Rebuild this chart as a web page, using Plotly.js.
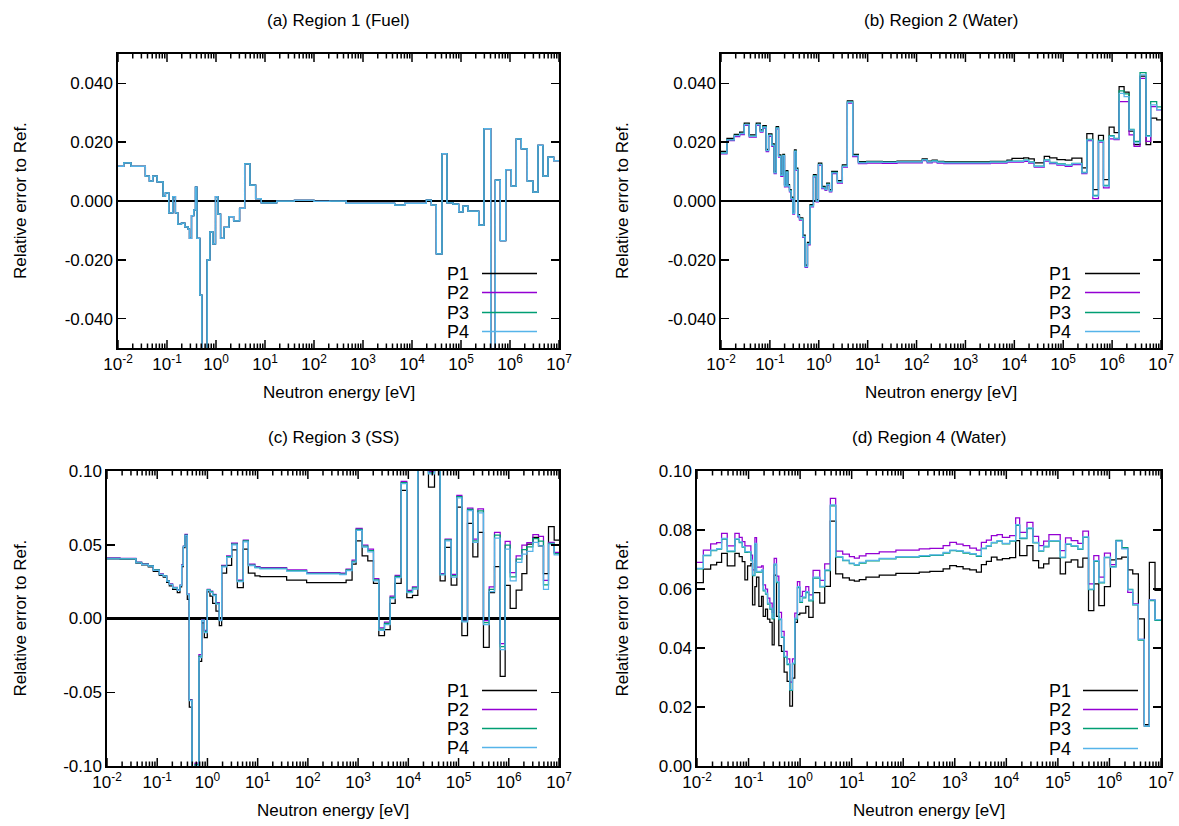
<!DOCTYPE html>
<html><head><meta charset="utf-8">
<script src="https://cdn.plot.ly/plotly-3.0.1.min.js"></script>
<style>html,body{margin:0;padding:0;background:#fff}#chart{width:1179px;height:826px}</style>
</head><body><div id="chart"></div>
<script>
// ---------------- DATA ----------------
const seriesNames = ['P1', 'P2', 'P3', 'P4'];
const seriesColors = ['#000000', '#9400d3', '#009e73', '#56b4e9'];
const panelTitles = ['(a) Region 1 (Fuel)', '(b) Region 2 (Water)', '(c) Region 3 (SS)', '(d) Region 4 (Water)'];
const xTitle = 'Neutron energy [eV]';
const yTitle = 'Relative error to Ref.';
const xTickVals = [1e-2, 1e-1, 1e0, 1e1, 1e2, 1e3, 1e4, 1e5, 1e6, 1e7];
const xTickText = ['10<sup>-2</sup>', '10<sup>-1</sup>', '10<sup>0</sup>', '10<sup>1</sup>', '10<sup>2</sup>', '10<sup>3</sup>', '10<sup>4</sup>', '10<sup>5</sup>', '10<sup>6</sup>', '10<sup>7</sup>'];
const yTickValsAB = [-0.04, -0.02, 0, 0.02, 0.04];
const yTickTextAB = ['-0.040', '-0.020', '0.000', '0.020', '0.040'];
const yTickValsC = [-0.1, -0.05, 0, 0.05, 0.1];
const yTickTextC = ['-0.10', '-0.05', '0.00', '0.05', '0.10'];
const yTickValsD = [0, 0.02, 0.04, 0.06, 0.08, 0.1];
const yTickTextD = ['0.00', '0.02', '0.04', '0.06', '0.08', '0.10'];

// group boundaries, log10(E/eV)
const aEdgesExp = [-2, -1.884, -1.734, -1.441, -1.359, -1.291, -1.202, -1.080, -1.032, -0.964, -0.882, -0.828, -0.780, -0.705, -0.637, -0.568, -0.541, -0.500, -0.453, -0.419, -0.391, -0.330, -0.289, -0.180, -0.125, -0.064, -0.010, 0.038, 0.093, 0.161, 0.263, 0.359, 0.481, 0.584, 0.693, 0.808, 0.924, 1.238, 1.6, 2.0, 2.32, 2.66, 3.646, 3.85, 4.293, 4.395, 4.497, 4.612, 4.714, 4.837, 4.952, 5.041, 5.143, 5.361, 5.469, 5.605, 5.701, 5.803, 5.912, 6.027, 6.129, 6.231, 6.354, 6.469, 6.571, 6.673, 6.776, 6.891, 7];
// Region 1: all four orders coincide
const aVals = [0.0118, 0.0130, 0.0118, 0.0085, 0.0068, 0.0085, 0.0065, 0.0017, 0.0028, -0.0040, 0.0015, -0.0040, -0.0079, -0.0075, -0.0088, -0.0096, -0.0127, -0.0050, -0.0030, 0.0047, -0.0127, -0.0320, -0.0600, -0.0200, -0.0105, -0.0146, 0.0015, -0.0045, -0.0127, -0.0090, -0.0053, -0.0068, -0.0025, 0.0126, 0.0054, 0.0008, -0.0006, 0.0000, 0.0002, -0.0001, 0.0000, -0.0008, -0.0014, -0.0008, 0.0003, -0.0014, -0.0180, 0.0161, -0.0006, -0.0011, -0.0037, -0.0017, -0.0034, -0.0082, 0.0246, -0.0600, 0.0071, -0.0135, 0.0107, 0.0051, 0.0211, 0.0177, 0.0068, 0.0030, 0.0189, 0.0085, 0.0149, 0.0137];

const bEdgesExp = [-2, -1.878, -1.728, -1.619, -1.524, -1.422, -1.279, -1.197, -1.143, -1.075, -1.027, -0.959, -0.912, -0.871, -0.823, -0.776, -0.735, -0.701, -0.667, -0.633, -0.599, -0.565, -0.531, -0.497, -0.463, -0.429, -0.395, -0.327, -0.279, -0.231, -0.177, -0.109, -0.054, -0.007, 0.061, 0.129, 0.163, 0.218, 0.265, 0.381, 0.483, 0.585, 0.694, 0.810, 0.980, 1.3, 1.6, 2.0, 2.116, 2.218, 2.32, 2.422, 2.558, 3.51, 3.85, 3.952, 4.19, 4.293, 4.408, 4.612, 4.721, 4.871, 5.041, 5.177, 5.381, 5.483, 5.605, 5.721, 5.823, 5.939, 6.041, 6.143, 6.245, 6.347, 6.449, 6.571, 6.694, 6.789, 6.912, 7];
const bP1 = [0.0169, 0.0213, 0.0227, 0.0234, 0.0265, 0.0225, 0.0265, 0.0242, 0.0256, 0.0176,
  0.0228, 0.0194, 0.0101, 0.0253, 0.0157, 0.0092, 0.0159, 0.0056, 0.0103, 0.0056,
  0.0039, 0.0013, -0.0037, 0.0174, 0.0112, -0.0046, -0.0057, -0.0116, -0.0218, -0.0141,
  -0.0012, 0.0090, 0.0005, 0.0129, 0.0050, 0.0044, 0.0061, 0.0039, 0.0101, 0.0069,
  0.0123, 0.0341, 0.0159, 0.0134, 0.0135, 0.0134, 0.0136, 0.0136, 0.0143, 0.0136,
  0.0139, 0.0135, 0.0133, 0.0135, 0.0139, 0.0145, 0.0147, 0.0143, 0.0130, 0.0152,
  0.0147, 0.0141, 0.0139, 0.0146, 0.0113, 0.0229, 0.0039, 0.0223, 0.0073, 0.0251,
  0.0233, 0.0389, 0.0370, 0.0238, 0.0192, 0.0425, 0.0192, 0.0282, 0.0276];
const bP2 = [0.0160, 0.0205, 0.0219, 0.0226, 0.0257, 0.0217, 0.0257, 0.0234, 0.0248, 0.0168,
  0.0220, 0.0186, 0.0093, 0.0245, 0.0149, 0.0084, 0.0151, 0.0048, 0.0095, 0.0048,
  0.0031, 0.0005, -0.0045, 0.0166, 0.0104, -0.0054, -0.0065, -0.0124, -0.0226, -0.0149,
  -0.0020, 0.0082, -0.0003, 0.0121, 0.0042, 0.0036, 0.0053, 0.0031, 0.0093, 0.0061,
  0.0115, 0.0333, 0.0151, 0.0127, 0.0129, 0.0128, 0.0130, 0.0130, 0.0137, 0.0130,
  0.0133, 0.0129, 0.0127, 0.0129, 0.0132, 0.0132, 0.0135, 0.0129, 0.0115, 0.0136,
  0.0127, 0.0122, 0.0118, 0.0124, 0.0093, 0.0205, 0.0008, 0.0200, 0.0045, 0.0211,
  0.0209, 0.0338, 0.0338, 0.0225, 0.0186, 0.0417, 0.0203, 0.0321, 0.0310];
const bP3 = [0.0164, 0.0209, 0.0223, 0.0230, 0.0261, 0.0221, 0.0261, 0.0238, 0.0252, 0.0172,
  0.0224, 0.0190, 0.0097, 0.0249, 0.0153, 0.0088, 0.0155, 0.0052, 0.0099, 0.0052,
  0.0035, 0.0009, -0.0041, 0.0170, 0.0108, -0.0050, -0.0061, -0.0120, -0.0222, -0.0145,
  -0.0016, 0.0086, 0.0001, 0.0125, 0.0046, 0.0040, 0.0057, 0.0035, 0.0097, 0.0065,
  0.0119, 0.0337, 0.0155, 0.0131, 0.0133, 0.0132, 0.0134, 0.0134, 0.0141, 0.0134,
  0.0137, 0.0133, 0.0131, 0.0133, 0.0136, 0.0136, 0.0139, 0.0133, 0.0119, 0.0140,
  0.0131, 0.0126, 0.0122, 0.0128, 0.0097, 0.0210, 0.0019, 0.0206, 0.0053, 0.0222,
  0.0213, 0.0375, 0.0364, 0.0244, 0.0203, 0.0437, 0.0222, 0.0338, 0.0320];
const bP4 = [0.0163, 0.0208, 0.0222, 0.0229, 0.0260, 0.0220, 0.0260, 0.0237, 0.0251, 0.0171,
  0.0223, 0.0189, 0.0096, 0.0248, 0.0152, 0.0087, 0.0154, 0.0051, 0.0098, 0.0051,
  0.0034, 0.0008, -0.0042, 0.0169, 0.0107, -0.0051, -0.0062, -0.0121, -0.0223, -0.0146,
  -0.0017, 0.0085, 0.0000, 0.0124, 0.0045, 0.0039, 0.0056, 0.0034, 0.0096, 0.0064,
  0.0118, 0.0336, 0.0154, 0.0130, 0.0132, 0.0131, 0.0133, 0.0133, 0.0140, 0.0133,
  0.0136, 0.0132, 0.0130, 0.0132, 0.0135, 0.0135, 0.0138, 0.0132, 0.0118, 0.0139,
  0.0130, 0.0125, 0.0121, 0.0127, 0.0096, 0.0208, 0.0017, 0.0203, 0.0051, 0.0220,
  0.0211, 0.0366, 0.0355, 0.0242, 0.0198, 0.0429, 0.0220, 0.0327, 0.0311];

const cEdgesExp = [-2, -1.741, -1.423, -1.310, -1.177, -1.078, -0.958, -0.879, -0.812, -0.759, -0.693, -0.600, -0.547, -0.514, -0.480, -0.447, -0.401, -0.361, -0.308, -0.248, -0.195, -0.169, -0.115, -0.062, -0.003, 0.050, 0.104, 0.170, 0.236, 0.283, 0.382, 0.482, 0.595, 0.714, 0.814, 0.946, 1.046, 1.577, 1.975, 2.638, 2.761, 2.880, 2.960, 3.080, 3.193, 3.306, 3.412, 3.525, 3.638, 3.738, 3.857, 3.970, 4.083, 4.189, 4.401, 4.521, 4.633, 4.733, 4.853, 4.966, 5.066, 5.178, 5.285, 5.384, 5.496, 5.610, 5.716, 5.829, 5.928, 6.028, 6.147, 6.261, 6.360, 6.480, 6.592, 6.691, 6.791, 6.904, 7];
const cP1 = [0.0405, 0.0403, 0.0375, 0.0363, 0.0350, 0.0320, 0.0293, 0.0280, 0.0245, 0.0222,
  0.0198, 0.0175, 0.0215, 0.0352, 0.0480, 0.0560, 0.0130, -0.0600, -0.1500, -0.1100,
  -0.1200, -0.0290, -0.0030, -0.0130, 0.0180, 0.0152, 0.0102, 0.0050, -0.0048, 0.0307,
  0.0360, 0.0466, 0.0209, 0.0470, 0.0307, 0.0289, 0.0284, 0.0261, 0.0243, 0.0243,
  0.0261, 0.0368, 0.0527, 0.0425, 0.0391, 0.0239, -0.0116, -0.0075, 0.0102, 0.0239,
  0.0868, 0.0141, 0.0157, 0.1500, 0.0890, 0.1500, 0.0255, 0.0482, 0.0227, 0.0755,
  -0.0116, 0.0645, 0.0418, 0.0584, -0.0195, 0.0175, 0.0352, -0.0393, 0.0225, 0.0068,
  0.0193, 0.0305, 0.0505, 0.0550, 0.0493, 0.0305, 0.0623, 0.0532];
const cP2 = [0.0411, 0.0407, 0.0382, 0.0370, 0.0359, 0.0330, 0.0302, 0.0291, 0.0257, 0.0234,
  0.0211, 0.0195, 0.0227, 0.0363, 0.0491, 0.0570, 0.0166, -0.0550, -0.1500, -0.0980,
  -0.0980, -0.0245, -0.0007, -0.0080, 0.0198, 0.0186, 0.0164, 0.0107, -0.0007, 0.0361,
  0.0425, 0.0511, 0.0261, 0.0532, 0.0368, 0.0352, 0.0345, 0.0330, 0.0311, 0.0307,
  0.0334, 0.0395, 0.0611, 0.0498, 0.0470, 0.0270, -0.0064, -0.0025, 0.0152, 0.0293,
  0.0930, 0.0191, 0.0214, 0.1500, 0.0995, 0.1500, 0.0305, 0.0539, 0.0300, 0.0834,
  -0.0014, 0.0748, 0.0539, 0.0743, -0.0014, 0.0214, 0.0584, -0.0170, 0.0523, 0.0311,
  0.0425, 0.0498, 0.0514, 0.0568, 0.0557, 0.0259, 0.0516, 0.0448];
const cP3 = [0.0407, 0.0406, 0.0380, 0.0368, 0.0357, 0.0329, 0.0300, 0.0289, 0.0255, 0.0232,
  0.0209, 0.0193, 0.0225, 0.0360, 0.0489, 0.0565, 0.0164, -0.0553, -0.1500, -0.0990,
  -0.0990, -0.0255, -0.0011, -0.0088, 0.0195, 0.0182, 0.0160, 0.0102, -0.0011, 0.0355,
  0.0420, 0.0505, 0.0255, 0.0526, 0.0362, 0.0347, 0.0340, 0.0325, 0.0306, 0.0301,
  0.0329, 0.0388, 0.0604, 0.0490, 0.0460, 0.0262, -0.0072, -0.0033, 0.0143, 0.0285,
  0.0922, 0.0183, 0.0207, 0.1500, 0.0987, 0.1500, 0.0300, 0.0533, 0.0290, 0.0826,
  -0.0018, 0.0740, 0.0527, 0.0730, -0.0028, 0.0198, 0.0565, -0.0190, 0.0497, 0.0283,
  0.0402, 0.0467, 0.0485, 0.0542, 0.0525, 0.0228, 0.0510, 0.0440];
const cP4 = [0.0405, 0.0405, 0.0378, 0.0366, 0.0355, 0.0327, 0.0298, 0.0287, 0.0253, 0.0230,
  0.0207, 0.0191, 0.0223, 0.0358, 0.0487, 0.0562, 0.0162, -0.0557, -0.1500, -0.1000,
  -0.1000, -0.0265, -0.0015, -0.0095, 0.0192, 0.0178, 0.0155, 0.0098, -0.0015, 0.0350,
  0.0415, 0.0500, 0.0250, 0.0520, 0.0358, 0.0343, 0.0336, 0.0321, 0.0302, 0.0297,
  0.0325, 0.0382, 0.0597, 0.0484, 0.0452, 0.0255, -0.0080, -0.0041, 0.0134, 0.0277,
  0.0914, 0.0175, 0.0200, 0.1500, 0.0980, 0.1500, 0.0295, 0.0527, 0.0280, 0.0818,
  -0.0023, 0.0732, 0.0516, 0.0716, -0.0041, 0.0182, 0.0545, -0.0211, 0.0470, 0.0255,
  0.0380, 0.0436, 0.0455, 0.0516, 0.0493, 0.0198, 0.0505, 0.0432];

const dEdgesExp = [-2, -1.877, -1.735, -1.619, -1.523, -1.413, -1.265, -1.181, -1.123, -1.071, -1.019, -0.955, -0.923, -0.877, -0.845, -0.800, -0.748, -0.716, -0.671, -0.632, -0.587, -0.542, -0.503, -0.458, -0.413, -0.361, -0.310, -0.252, -0.200, -0.148, -0.103, -0.052, -0.006, 0.045, 0.110, 0.168, 0.252, 0.381, 0.477, 0.587, 0.690, 0.826, 0.955, 1.052, 1.148, 1.277, 1.535, 1.858, 2.31, 2.516, 2.774, 2.903, 3.032, 3.161, 3.29, 3.419, 3.516, 3.613, 3.71, 3.819, 3.923, 4.065, 4.181, 4.258, 4.4, 4.516, 4.626, 4.723, 4.826, 5.045, 5.148, 5.258, 5.387, 5.484, 5.594, 5.697, 5.794, 5.903, 6.019, 6.129, 6.239, 6.355, 6.452, 6.561, 6.677, 6.774, 6.884, 7];
const dP1 = [0.0622, 0.0667, 0.0682, 0.0690, 0.0721, 0.0678, 0.0721, 0.0710, 0.0693, 0.0631,
  0.0678, 0.0686, 0.0546, 0.0608, 0.0640, 0.0541, 0.0575, 0.0507, 0.0532, 0.0498,
  0.0487, 0.0411, 0.0647, 0.0507, 0.0408, 0.0389, 0.0318, 0.0287, 0.0203, 0.0298,
  0.0487, 0.0513, 0.0518, 0.0518, 0.0541, 0.0504, 0.0588, 0.0552, 0.0609, 0.0830,
  0.0651, 0.0638, 0.0630, 0.0627, 0.0632, 0.0640, 0.0647, 0.0653, 0.0657, 0.0660,
  0.0668, 0.0679, 0.0676, 0.0668, 0.0665, 0.0657, 0.0683, 0.0694, 0.0708, 0.0699,
  0.0703, 0.0706, 0.0764, 0.0713, 0.0747, 0.0696, 0.0672, 0.0685, 0.0705, 0.0651,
  0.0691, 0.0699, 0.0674, 0.0705, 0.0527, 0.0617, 0.0544, 0.0608, 0.0699, 0.0702,
  0.0708, 0.0665, 0.0651, 0.0499, 0.0140, 0.0690, 0.0595];
const dP2 = [0.0690, 0.0732, 0.0753, 0.0757, 0.0789, 0.0746, 0.0789, 0.0775, 0.0761, 0.0746,
  0.0746, 0.0715, 0.0665, 0.0774, 0.0674, 0.0674, 0.0678, 0.0614, 0.0600, 0.0569,
  0.0552, 0.0521, 0.0704, 0.0644, 0.0521, 0.0456, 0.0389, 0.0363, 0.0284, 0.0363,
  0.0518, 0.0625, 0.0575, 0.0592, 0.0608, 0.0580, 0.0663, 0.0629, 0.0685, 0.0907,
  0.0728, 0.0718, 0.0710, 0.0705, 0.0712, 0.0720, 0.0726, 0.0732, 0.0736, 0.0738,
  0.0747, 0.0758, 0.0752, 0.0747, 0.0739, 0.0732, 0.0758, 0.0766, 0.0781, 0.0784,
  0.0775, 0.0781, 0.0841, 0.0792, 0.0826, 0.0778, 0.0747, 0.0762, 0.0784, 0.0730,
  0.0773, 0.0764, 0.0755, 0.0796, 0.0617, 0.0713, 0.0640, 0.0722, 0.0683, 0.0764,
  0.0739, 0.0589, 0.0550, 0.0429, 0.0135, 0.0563, 0.0496];
const dP3 = [0.0668, 0.0713, 0.0730, 0.0735, 0.0769, 0.0727, 0.0768, 0.0757, 0.0742, 0.0724,
  0.0725, 0.0696, 0.0645, 0.0752, 0.0657, 0.0657, 0.0662, 0.0594, 0.0583, 0.0549,
  0.0532, 0.0499, 0.0682, 0.0622, 0.0496, 0.0436, 0.0369, 0.0344, 0.0256, 0.0346,
  0.0498, 0.0605, 0.0555, 0.0570, 0.0588, 0.0560, 0.0637, 0.0607, 0.0662, 0.0882,
  0.0708, 0.0696, 0.0686, 0.0681, 0.0688, 0.0695, 0.0702, 0.0708, 0.0711, 0.0714,
  0.0722, 0.0730, 0.0728, 0.0722, 0.0718, 0.0711, 0.0737, 0.0745, 0.0756, 0.0762,
  0.0753, 0.0762, 0.0816, 0.0771, 0.0805, 0.0756, 0.0728, 0.0743, 0.0762, 0.0706,
  0.0751, 0.0745, 0.0734, 0.0775, 0.0598, 0.0694, 0.0621, 0.0706, 0.0676, 0.0765,
  0.0740, 0.0599, 0.0546, 0.0427, 0.0135, 0.0561, 0.0494];
const dP4 = [0.0670, 0.0715, 0.0732, 0.0737, 0.0772, 0.0729, 0.0770, 0.0760, 0.0744, 0.0727,
  0.0727, 0.0698, 0.0648, 0.0755, 0.0660, 0.0660, 0.0665, 0.0597, 0.0586, 0.0552,
  0.0535, 0.0502, 0.0685, 0.0625, 0.0499, 0.0439, 0.0372, 0.0347, 0.0259, 0.0349,
  0.0501, 0.0608, 0.0558, 0.0573, 0.0591, 0.0563, 0.0640, 0.0609, 0.0665, 0.0885,
  0.0710, 0.0698, 0.0688, 0.0683, 0.0690, 0.0697, 0.0704, 0.0710, 0.0713, 0.0716,
  0.0724, 0.0732, 0.0730, 0.0724, 0.0720, 0.0713, 0.0739, 0.0747, 0.0758, 0.0764,
  0.0755, 0.0764, 0.0818, 0.0773, 0.0807, 0.0758, 0.0730, 0.0745, 0.0764, 0.0708,
  0.0753, 0.0747, 0.0736, 0.0777, 0.0600, 0.0696, 0.0623, 0.0708, 0.0674, 0.0762,
  0.0736, 0.0597, 0.0547, 0.0429, 0.0135, 0.0563, 0.0496];

// ---------------- LAYOUT HELPERS ----------------
const W = 1179, H = 826;
const fx = p => p / W;
const fy = p => 1 - p / H;
const FONT = 'Liberation Sans, Arial, Helvetica, sans-serif';

const panels = [
  {edges: aEdgesExp, series: [aVals, aVals, aVals, aVals], xd: [118, 559], yd: [54, 348], yr: [-0.05, 0.05], tv: yTickValsAB, tt: yTickTextAB, zero: true, legX: 471, legL: [482, 537], legY: [273.5, 292.5, 312.5, 331.5], ytx: 20},
  {edges: bEdgesExp, series: [bP1, bP2, bP3, bP4], xd: [721, 1161], yd: [54, 348], yr: [-0.05, 0.05], tv: yTickValsAB, tt: yTickTextAB, zero: true, legX: 1073, legL: [1085, 1140], legY: [273.5, 292.5, 312.5, 331.5], ytx: 622},
  {edges: cEdgesExp, series: [cP1, cP2, cP3, cP4], xd: [107, 559], yd: [471, 766], yr: [-0.1, 0.1], tv: yTickValsC, tt: yTickTextC, zero: true, legX: 471, legL: [482, 537], legY: [690.5, 709.5, 728.5, 747.5], ytx: 20},
  {edges: dEdgesExp, series: [dP1, dP2, dP3, dP4], xd: [697, 1161], yd: [471, 766], yr: [0, 0.1], tv: yTickValsD, tt: yTickTextD, zero: false, legX: 1073, legL: [1083, 1138], legY: [690.5, 709.5, 728.5, 748.5], ytx: 622}
];

// tick positions within a decade axis (-2..7), as fractions of the axis length
const majorFrac = [], minorFrac = [];
for (let k = -2; k <= 7; k++) majorFrac.push((k + 2) / 9);
for (let k = -2; k < 7; k++) for (let m = 2; m <= 9; m++) minorFrac.push((k + 2 + Math.log10(m)) / 9);

const traces = [];
const layout = {
  width: W, height: H, margin: {l: 0, r: 0, t: 0, b: 0},
  paper_bgcolor: '#fff', plot_bgcolor: '#fff', showlegend: false,
  font: {family: FONT, size: 17, color: '#000'},
  annotations: [], shapes: []
};

panels.forEach((p, i) => {
  const n = i === 0 ? '' : String(i + 1);
  const xa = 'x' + n, ya = 'y' + n;
  const x = p.edges.map(e => Math.pow(10, e));
  p.series.forEach((vals, s) => {
    traces.push({
      type: 'scatter', mode: 'lines', xaxis: xa, yaxis: ya,
      x: x, y: vals.concat([vals[vals.length - 1]]),
      name: seriesNames[s], line: {shape: 'hv', color: seriesColors[s], width: 1.25},
      hoverinfo: 'skip'
    });
  });
  layout['xaxis' + n] = {
    domain: [fx(p.xd[0]), fx(p.xd[1])], anchor: ya, type: 'log', range: [-2, 7],
    tickmode: 'array', tickvals: xTickVals, ticktext: xTickText,
    ticks: '', mirror: true,
    showline: true, linecolor: '#000', linewidth: 1.7, showgrid: false, zeroline: false,
    tickfont: {family: FONT, size: 17, color: '#000'}
  };
  layout['yaxis' + n] = {
    domain: [fy(p.yd[1]), fy(p.yd[0])], anchor: xa, range: p.yr,
    tickmode: 'array', tickvals: p.tv, ticktext: p.tt,
    ticks: 'inside', ticklen: 8, tickwidth: 1.5, tickcolor: '#000', mirror: 'allticks',
    showline: true, linecolor: '#000', linewidth: 1.7, showgrid: false,
    zeroline: p.zero, zerolinecolor: '#000', zerolinewidth: 2.2,
    tickfont: {family: FONT, size: 17, color: '#000'}
  };
  // x-axis ticks (major 8 px, minor 4.5 px) on bottom and top frame edges
  const addTick = (f, len) => {
    const xp = fx(p.xd[0] + f * (p.xd[1] - p.xd[0]));
    layout.shapes.push({type: 'line', layer: 'above', xref: 'paper', yref: 'paper', x0: xp, x1: xp, y0: fy(p.yd[1]), y1: fy(p.yd[1] - len), line: {color: '#000', width: 1.5}});
    layout.shapes.push({type: 'line', layer: 'above', xref: 'paper', yref: 'paper', x0: xp, x1: xp, y0: fy(p.yd[0]), y1: fy(p.yd[0] + len), line: {color: '#000', width: 1.5}});
  };
  majorFrac.forEach(f => addTick(f, 8));
  minorFrac.forEach(f => addTick(f, 4.5));
  const cx = fx((p.xd[0] + p.xd[1]) / 2);
  layout.annotations.push({text: panelTitles[i], xref: 'paper', yref: 'paper', x: cx, y: fy(p.yd[0] - 34), xanchor: 'center', yanchor: 'middle', showarrow: false, font: {family: FONT, size: 17, color: '#000'}});
  layout.annotations.push({text: xTitle, xref: 'paper', yref: 'paper', x: cx, y: fy(p.yd[1] + 44), xanchor: 'center', yanchor: 'middle', showarrow: false, font: {family: FONT, size: 17, color: '#000'}});
  layout.annotations.push({text: yTitle, xref: 'paper', yref: 'paper', x: fx(p.ytx), y: fy((p.yd[0] + p.yd[1]) / 2), xanchor: 'center', yanchor: 'middle', textangle: -90, showarrow: false, font: {family: FONT, size: 17, color: '#000'}});
  seriesNames.forEach((nm, s) => {
    layout.annotations.push({text: nm, xref: 'paper', yref: 'paper', x: fx(p.legX), y: fy(p.legY[s]), xanchor: 'right', yanchor: 'middle', showarrow: false, font: {family: FONT, size: 18, color: '#000'}});
    layout.shapes.push({type: 'line', xref: 'paper', yref: 'paper', x0: fx(p.legL[0]), x1: fx(p.legL[1]), y0: fy(p.legY[s]), y1: fy(p.legY[s]), line: {color: seriesColors[s], width: 1.3}});
  });
});

Plotly.newPlot('chart', traces, layout, {staticPlot: true});
</script>
</body></html>
